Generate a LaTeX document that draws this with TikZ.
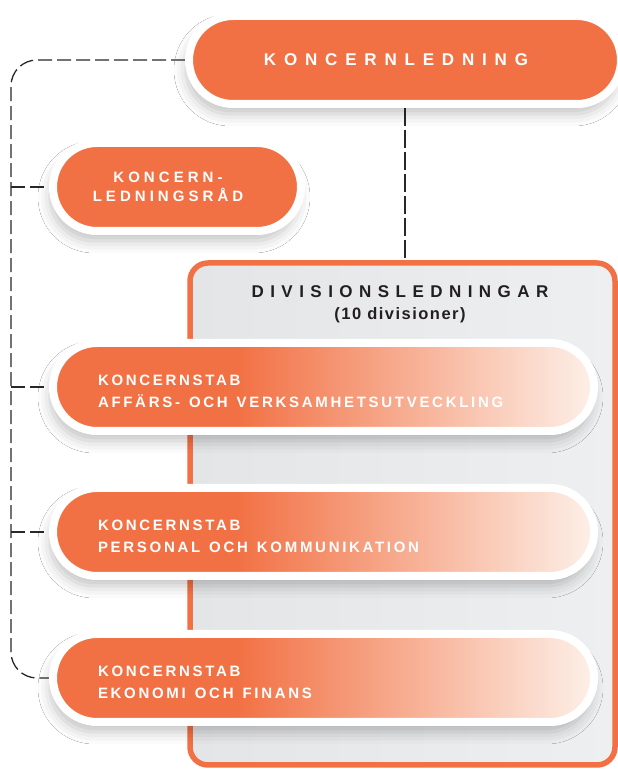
\documentclass[tikz,border=0pt]{standalone}
\usepackage{fontspec}
\setmainfont{Liberation Sans}
\newfontfamily\headfont[LetterSpace=46]{Liberation Sans}
\newfontfamily\divfont[LetterSpace=38]{Liberation Sans}
\newfontfamily\subfont[LetterSpace=9]{Liberation Sans}
\newfontfamily\radfont[LetterSpace=27]{Liberation Sans}
\newfontfamily\stabfont[LetterSpace=18]{Liberation Sans}
\newcommand\wgap{\hspace{9pt}}
\usetikzlibrary{shadows.blur,calc}

\definecolor{orng}{RGB}{242,113,68}
\definecolor{peach}{RGB}{253,240,232}
\definecolor{ink}{RGB}{35,31,32}
\definecolor{dashink}{RGB}{40,40,40}
\definecolor{boxgrayA}{RGB}{228,229,231}
\definecolor{boxgrayB}{RGB}{238,239,240}

% solid orange for the first third, then fading towards peach
\pgfdeclarehorizontalshading{stabfade}{100bp}{color(0bp)=(orng); color(42bp)=(orng); color(75bp)=(peach); color(100bp)=(peach)}

\pgfdeclarelayer{back}
\pgfsetlayers{back,main}

\begin{document}
\begin{tikzpicture}[x=1pt,y=1pt,
  pill/.style={rectangle, rounded corners=44pt, minimum height=88pt,
    draw=white, line width=8pt, inner sep=0pt, text=white,
    blur shadow={shadow xshift=-3pt, shadow yshift=-10pt,
      shadow blur radius=12pt, shadow opacity=24}},
  solidpill/.style={pill, fill=orng},
  fadepill/.style={pill, shading=stabfade, text width=451pt,
    inner xsep=45pt, align=left,
    font=\stabfont\bfseries\fontsize{15}{22}\selectfont},
  sidedash/.style={draw=dashink, line width=1.3pt, dash pattern=on 14pt off 5pt},
  middash/.style={draw=dashink, line width=2pt, dash pattern=on 18pt off 4pt}
]
\useasboundingbox (0,0) rectangle (618,769);

% top management
\node[solidpill, minimum width=432pt,
  font=\headfont\bfseries\fontsize{17}{20}\selectfont]
  (top) at (405,709) {KONCERNLEDNING\hspace*{18pt}};

% management council
\node[solidpill, minimum width=248pt, align=center,
  font=\radfont\bfseries\fontsize{15}{18.5}\selectfont]
  (rad) at (177,582) {KONCERN-\hspace*{18pt}\\LEDNINGSRÅD\hspace*{18pt}};

% group staff functions
\node[fadepill] (stabA) at (323.5,382)
  {\rule{0pt}{19pt}KONCERNSTAB\\AFFÄRS-\wgap OCH\wgap VERKSAMHETSUTVECKLING};
\node[fadepill] (stabB) at (323.5,237)
  {\rule{0pt}{19pt}KONCERNSTAB\\PERSONAL\wgap OCH\wgap KOMMUNIKATION};
\node[fadepill] (stabC) at (323.5,91)
  {\rule{0pt}{19pt}KONCERNSTAB\\EKONOMI\wgap OCH\wgap FINANS};

\coordinate (spine) at (11,0);

\begin{pgfonlayer}{back}
  \fill[white] (0,0) rectangle (618,769);
  % divisions frame
  \node[rectangle, rounded corners=18pt, draw=orng, line width=5.5pt,
    left color=boxgrayA, right color=boxgrayB,
    minimum width=425pt, minimum height=502pt, inner sep=0pt]
    (div) at (402.5,255) {};
  \node[align=center, text=ink, inner sep=0pt,
    font=\bfseries\fontsize{16}{22}\selectfont]
    (divtitle) at (400,465)
    {{\divfont\bfseries\fontsize{17}{22}\selectfont DIVISIONSLEDNINGAR}\\
     {\subfont\bfseries\fontsize{16.5}{22}\selectfont (10 divisioner)}};

  % reporting lines
  \draw[middash] (top.south) -- (top.south |- div.north);
  \draw[sidedash, rounded corners=26pt]
    (top.west) -| (spine |- stabC.west) -- (stabC.west);
  \draw[sidedash] (spine |- rad.west) -- (rad.west);
  \draw[sidedash] (spine |- stabA.west) -- (stabA.west);
  \draw[sidedash] (spine |- stabB.west) -- (stabB.west);
\end{pgfonlayer}
\end{tikzpicture}
\end{document}
